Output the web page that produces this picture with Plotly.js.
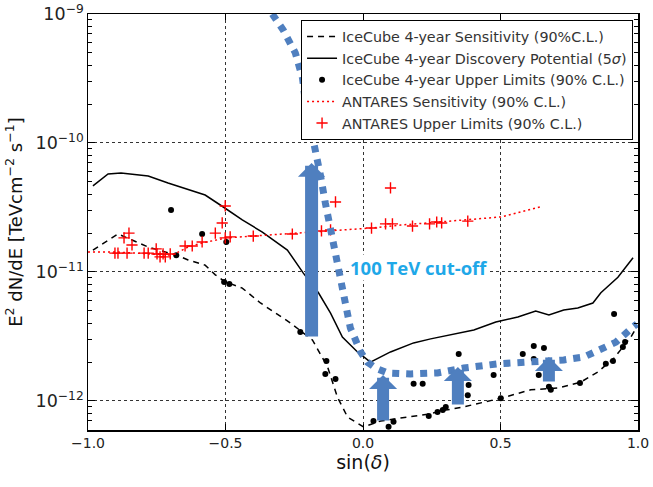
<!DOCTYPE html>
<html><head><meta charset="utf-8">
<script src="https://cdn.plot.ly/plotly-3.0.1.min.js"></script>
<style>html,body{margin:0;padding:0;background:#fff}#chart{width:653px;height:487px}</style>
</head><body><div id="chart"></div><script>
// IceCube 4-year sensitivity (dashed)
const sensX = [-0.982,-0.891,-0.840,-0.781,-0.719,-0.676,-0.636,-0.574,-0.537,-0.501,-0.439,-0.373,-0.264,-0.184,-0.129,-0.093,-0.056,0.002,0.064,0.137,0.235,0.301,0.366,0.501,0.610,0.709,0.792,0.854,0.913,0.974,0.996];
const sensY = [1.48e-11,1.97e-11,1.77e-11,1.56e-11,1.43e-11,1.35e-11,1.24e-11,1.13e-11,9.5e-12,8.4e-12,7.5e-12,5.75e-12,4.03e-12,2.97e-12,1.84e-12,1.07e-12,7.5e-13,6.3e-13,7.0e-13,7.4e-13,7.9e-13,8.5e-13,9.0e-13,1.05e-12,1.22e-12,1.26e-12,1.40e-12,1.68e-12,2.15e-12,3.13e-12,3.75e-12];
// IceCube 4-year discovery potential (solid)
const discX = [-0.982,-0.927,-0.880,-0.781,-0.709,-0.621,-0.574,-0.508,-0.439,-0.366,-0.275,-0.217,-0.162,-0.118,-0.075,-0.020,0.027,0.100,0.184,0.246,0.330,0.403,0.483,0.563,0.628,0.676,0.730,0.781,0.836,0.865,0.927,0.982];
const discY = [4.65e-11,5.75e-11,5.85e-11,5.55e-11,4.9e-11,4.25e-11,3.95e-11,3.19e-11,2.53e-11,2.04e-11,1.48e-11,9.8e-12,6.9e-12,4.8e-12,3.13e-12,2.40e-12,2.0e-12,2.40e-12,2.82e-12,3.03e-12,3.31e-12,3.55e-12,4.09e-12,4.48e-12,4.99e-12,4.65e-12,5.07e-12,5.26e-12,5.75e-12,6.9e-12,9.1e-12,1.29e-11];
// IceCube 4-year upper limits (dots)
const ulX = [-0.698,-0.585,-0.679,-0.497,-0.505,-0.486,-0.228,-0.133,-0.137,-0.100,0.038,0.093,0.111,0.184,0.217,0.239,0.271,0.290,0.301,0.348,0.384,0.381,0.475,0.501,0.581,0.621,0.658,0.621,0.639,0.676,0.683,0.789,0.883,0.909,0.913,0.945,0.953];
const ulY = [3.03e-11,1.97e-11,1.35e-11,1.71e-11,8.35e-12,8.07e-12,3.43e-12,2.04e-12,1.62e-12,1.48e-12,7.0e-13,6.3e-13,6.9e-13,1.36e-12,1.36e-12,7.65e-13,8.2e-13,8.5e-13,9.0e-13,2.31e-12,1.33e-12,1.11e-12,1.59e-12,1.05e-12,2.31e-12,2.67e-12,2.58e-12,2.12e-12,1.59e-12,1.29e-12,1.22e-12,1.38e-12,1.94e-12,2.04e-12,4.72e-12,2.62e-12,2.86e-12];
// ANTARES sensitivity (red dotted)
const antSensX = [-1.0,-0.902,-0.774,-0.694,-0.636,-0.585,-0.494,-0.399,-0.253,-0.118,0.027,0.137,0.282,0.501,0.643];
const antSensY = [1.43e-11,1.43e-11,1.38e-11,1.35e-11,1.56e-11,1.68e-11,1.84e-11,1.90e-11,1.97e-11,2.08e-11,2.19e-11,2.31e-11,2.44e-11,2.67e-11,3.19e-11];
// ANTARES upper limits (red crosses)
const antUlX = [-0.902,-0.891,-0.869,-0.858,-0.851,-0.840,-0.796,-0.781,-0.752,-0.749,-0.738,-0.727,-0.719,-0.701,-0.647,-0.621,-0.585,-0.537,-0.512,-0.501,-0.501,-0.483,-0.399,-0.257,-0.151,-0.118,-0.100,0.031,0.082,0.107,0.100,0.180,0.242,0.268,0.286,0.381];
const antUlY = [1.40e-11,1.40e-11,1.84e-11,1.40e-11,2.0e-11,1.62e-11,1.40e-11,1.40e-11,1.51e-11,1.38e-11,1.31e-11,1.38e-11,1.31e-11,1.38e-11,1.59e-11,1.59e-11,1.71e-11,2.0e-11,2.40e-11,3.25e-11,1.84e-11,1.87e-11,1.90e-11,1.97e-11,2.08e-11,2.12e-11,3.49e-11,2.19e-11,2.36e-11,2.36e-11,4.48e-11,2.27e-11,2.36e-11,2.44e-11,2.40e-11,2.48e-11];
// 100 TeV cut-off overlay curve
const cutX = [-0.330,-0.290,-0.246,-0.220,-0.209,-0.191,-0.173,-0.155,-0.137,-0.118,-0.097,-0.082,-0.064,-0.046,-0.027,-0.009,0.016,0.046,0.089,0.173,0.271,0.366,0.490,0.610,0.730,0.803,0.865,0.920,0.982,0.996];
const cutY = [1.0e-9,7.5e-10,4.99e-10,3.19e-10,2.04e-10,1.38e-10,8.36e-11,5.65e-11,3.43e-11,2.12e-11,1.24e-11,8.67e-12,5.07e-12,3.68e-12,2.97e-12,2.40e-12,2.0e-12,1.80e-12,1.65e-12,1.62e-12,1.65e-12,1.80e-12,1.94e-12,2.0e-12,2.08e-12,2.19e-12,2.48e-12,2.86e-12,3.75e-12,3.95e-12];
// arrows: x, tip (log10), tail (log10)
const arrowX = [-0.187, 0.073, 0.345, 0.676];
const arrowTip = [-10.155, -11.798, -11.736, -11.659];
const arrowTail = [-11.512, -12.163, -12.039, -11.860];
const arrowW = [13, 12, 12, 12];

const names = ['IceCube 4-year Sensitivity (90%C.L.)','IceCube 4-year Discovery Potential (5<i>σ</i>)','IceCube 4-year Upper Limits (90% C.L.)','ANTARES Sensitivity (90% C.L.)','ANTARES Upper Limits (90% C.L.)'];
const blue = '#4f7fbf';

const traces = [
  {x: sensX, y: sensY, mode:'lines', name:names[0], legendgroup:'a', line:{color:'#000', width:1.5, dash:'6px,5px'}},
  {x: discX, y: discY, mode:'lines', name:names[1], legendgroup:'b', line:{color:'#000', width:1.5}},
  {x: ulX, y: ulY, mode:'markers', name:names[2], legendgroup:'c', marker:{color:'#000', size:6}},
  {x: antSensX, y: antSensY, mode:'lines', name:names[3], legendgroup:'d', line:{color:'#ff0000', width:1.5, dash:'2px,3px'}},
  {x: antUlX, y: antUlY, mode:'markers', name:names[4], legendgroup:'e', marker:{color:'#ff0000', size:8, symbol:'cross-thin-open', line:{color:'#ff0000', width:1.4}}},
  {x: cutX, y: cutY, mode:'lines', showlegend:false, line:{color:blue, width:7, dash:'7px,7px'}, hoverinfo:'skip'}
];

const annotations = arrowX.map((ax,i)=>({
  x: ax, y: arrowTip[i], ax: ax, ay: arrowTail[i], xref:'x', yref:'y', axref:'x', ayref:'y',
  text:'', showarrow:true, arrowhead:1, arrowsize:(i===0?0.35:0.39), arrowwidth:arrowW[i], arrowcolor:blue, standoff:0, startstandoff:0
}));
annotations.push({x:0.205, y:-10.969, xref:'x', yref:'y', text:'<b>100 TeV cut-off</b>', showarrow:false,
  bgcolor:'#fff', borderpad:0,
  font:{family:'Open Sans', size:18.5, color:'#1fa8e8'}});

const layout = {
  width:653, height:487,
  margin:{l:88, r:15, t:14, b:57},
  paper_bgcolor:'#fff', plot_bgcolor:'#fff',
  font:{family:'DejaVu Sans', size:13, color:'#222'},
  showlegend:true,
  legend:{x:0.991, y:0.986, xanchor:'right', yanchor:'top', bgcolor:'#fff', bordercolor:'#000', borderwidth:1,
    font:{family:'DejaVu Sans', size:14.3, color:'#333'}, traceorder:'normal', itemwidth:30},
  xaxis:{range:[-1,1], dtick:0.5, tick0:0, tickformat:'.1f', ticks:'inside', ticklen:6, tickcolor:'#000',
    showline:true, linecolor:'#000', linewidth:1.5, mirror:'ticks', showgrid:true, gridcolor:'#333', griddash:'dot', gridwidth:1,
    zeroline:false, tickfont:{size:14},
    title:{text:'sin(<i>δ</i>)', font:{size:19, color:'#111'}, standoff:4}},
  yaxis:{type:'log', range:[-12.225,-9], dtick:1, exponentformat:'power', ticks:'inside', ticklen:7, tickcolor:'#000',
    minor:{ticks:'inside', ticklen:4, tickcolor:'#000', showgrid:false},
    showline:true, linecolor:'#000', linewidth:1.5, mirror:'ticks', showgrid:true, gridcolor:'#333', griddash:'dot', gridwidth:1,
    zeroline:false, tickfont:{size:14},
    title:{text:'E<sup>2</sup> dN/dE [TeVcm<sup>−2</sup> s<sup>−1</sup>]', font:{size:18, color:'#111'}, standoff:8}},
  annotations: annotations
};

Plotly.newPlot('chart', traces, layout, {displayModeBar:false, staticPlot:true});
</script></body></html>
